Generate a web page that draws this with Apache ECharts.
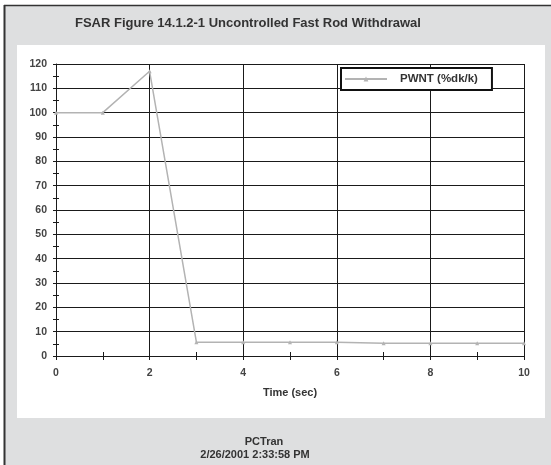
<!DOCTYPE html>
<html>
<head>
<meta charset="utf-8">
<script src="https://cdn.jsdelivr.net/npm/echarts@6/dist/echarts.min.js"></script>
<style>
html,body{margin:0;padding:0;background:#fff;}
#chart{width:551px;height:465px;}
</style>
</head>
<body>
<div id="chart"></div>
<script>
const titleText = 'FSAR Figure 14.1.2-1 Uncontrolled Fast Rod Withdrawal';
const seriesName = 'PWNT (%dk/k)';
const timeSec = [0, 1, 2, 3, 4, 5, 6, 7, 8, 9, 10];
const pwnt = [100, 100, 117, 5.7, 5.7, 5.7, 5.7, 5.2, 5.2, 5.2, 5.2];
const xAxisName = 'Time (sec)';
const footerLine1 = 'PCTran';
const footerLine2 = '2/26/2001 2:33:58 PM';

const FONT = '"Liberation Sans", Arial, sans-serif';
const chart = echarts.init(document.getElementById('chart'), null, {renderer: 'canvas'});

const points = timeSec.map((t, i) => [t, pwnt[i]]);

const axisLineStyle = {color: '#1a1a1a', width: 1};

chart.setOption({
  backgroundColor: '#ffffff',
  animation: false,
  graphic: [
    {type: 'rect', z: -10, shape: {x: 4, y: 5, width: 547, height: 460}, style: {fill: '#dedfe0'}},
    {type: 'line', z: -9, shape: {x1: 4.5, y1: 5, x2: 4.5, y2: 465}, style: {stroke: '#333', lineWidth: 2}},
    {type: 'line', z: -9, shape: {x1: 4, y1: 5.5, x2: 551, y2: 5.5}, style: {stroke: '#333', lineWidth: 1.5}},
    {type: 'rect', z: -8, shape: {x: 17, y: 45, width: 528, height: 373}, style: {fill: '#ffffff'}},
    {type: 'text', left: 75, top: 17, style: {text: titleText, font: 'bold 13px ' + FONT, fill: '#333'}},
    {type: 'text', x: 264, y: 442, style: {text: footerLine1, font: 'bold 11px ' + FONT, fill: '#333', align: 'center', verticalAlign: 'middle'}},
    {type: 'text', x: 255, y: 455, style: {text: footerLine2, font: 'bold 11px ' + FONT, fill: '#333', align: 'center', verticalAlign: 'middle'}}
  ],
  grid: {left: 56, right: 27, top: 64, bottom: 109, containLabel: false},
  legend: {
    data: [seriesName],
    left: 341, top: 68,
    padding: [5, 14, 5, 3],
    itemWidth: 42, itemHeight: 6,
    backgroundColor: '#fff',
    borderColor: '#111', borderWidth: 2, borderRadius: 0,
    textStyle: {fontFamily: FONT, fontSize: 11.5, fontWeight: 'bold', color: '#333', padding: [0, 0, 0, 8]}
  },
  xAxis: [
    {
      type: 'value', min: 0, max: 10, interval: 2,
      name: xAxisName, nameLocation: 'middle', nameGap: 31,
      nameTextStyle: {fontFamily: FONT, fontSize: 11, fontWeight: 'bold', color: '#333'},
      axisLine: {show: true, lineStyle: axisLineStyle},
      axisTick: {show: true, length: 4, lineStyle: axisLineStyle},
      minorTick: {show: true, splitNumber: 2, length: 4, lineStyle: axisLineStyle},
      splitLine: {show: true, lineStyle: {color: '#1a1a1a', width: 1}},
      axisLabel: {fontFamily: FONT, fontSize: 10.5, fontWeight: 'bold', color: '#444', margin: 12}
    },
    {
      type: 'value', min: 0, max: 10, interval: 2, position: 'bottom',
      axisLine: {show: false},
      axisTick: {show: true, inside: true, length: 4, lineStyle: axisLineStyle},
      minorTick: {show: true, splitNumber: 2, length: 4, lineStyle: axisLineStyle},
      splitLine: {show: false},
      axisLabel: {show: false}
    }
  ],
  yAxis: [
    {
      type: 'value', min: 0, max: 120, interval: 10,
      axisLine: {show: true, lineStyle: axisLineStyle},
      axisTick: {show: true, length: 3, lineStyle: axisLineStyle},
      minorTick: {show: true, splitNumber: 2, length: 3, lineStyle: axisLineStyle},
      splitLine: {show: true, lineStyle: {color: '#1a1a1a', width: 1}},
      axisLabel: {fontFamily: FONT, fontSize: 10.5, fontWeight: 'bold', color: '#444', margin: 9}
    },
    {
      type: 'value', min: 0, max: 120, interval: 10, position: 'left',
      axisLine: {show: false},
      axisTick: {show: true, inside: true, length: 3, lineStyle: axisLineStyle},
      minorTick: {show: true, splitNumber: 2, length: 3, lineStyle: axisLineStyle},
      splitLine: {show: false},
      axisLabel: {show: false}
    }
  ],
  series: [{
    name: seriesName,
    type: 'line',
    xAxisIndex: 0, yAxisIndex: 0,
    data: points,
    symbol: 'triangle', symbolSize: 4,
    itemStyle: {color: '#b3b3b3'},
    lineStyle: {color: '#b3b3b3', width: 1.5},
    z: 5
  }]
});
</script>
</body>
</html>
